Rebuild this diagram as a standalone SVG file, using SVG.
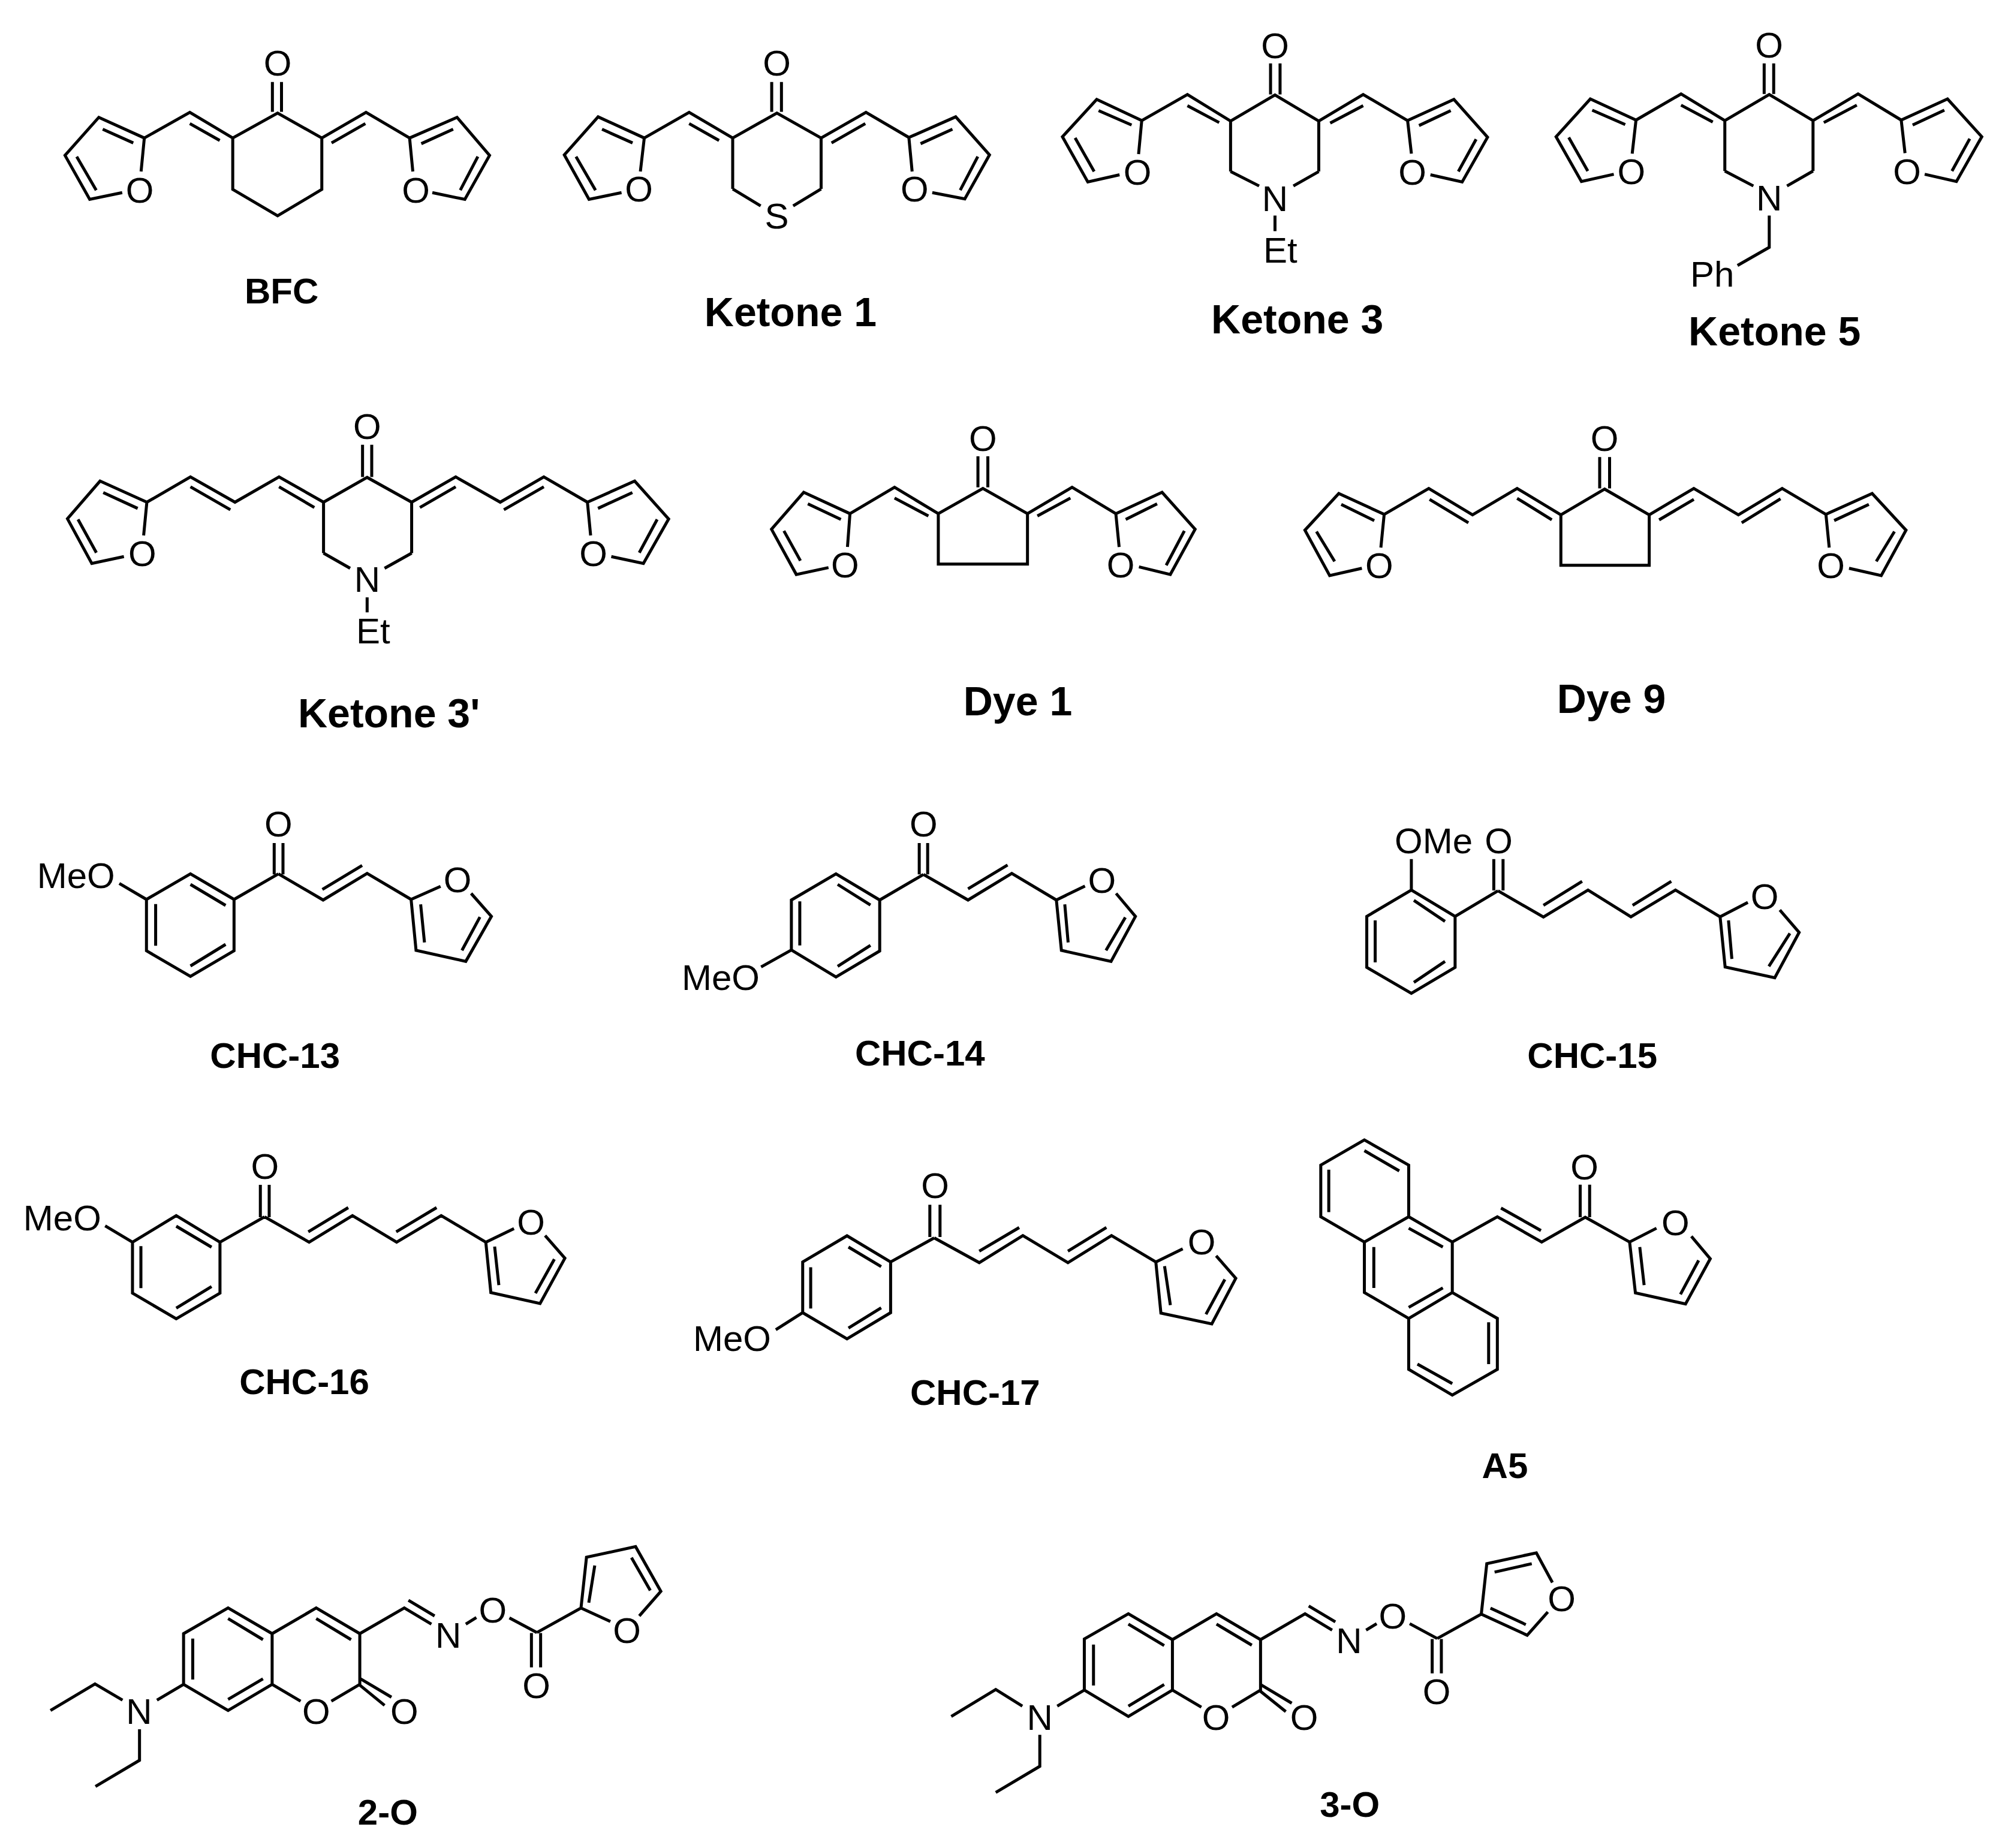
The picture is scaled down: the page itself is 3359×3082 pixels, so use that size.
<svg xmlns="http://www.w3.org/2000/svg" width="3359" height="3082" viewBox="0 0 3359 3082">
<style>
path{fill:none;stroke:#000;stroke-width:5;vector-effect:non-scaling-stroke;stroke-linejoin:miter}
text{font-family:"Liberation Sans",Arial,sans-serif;fill:#000}
.a{font-size:60px;text-anchor:middle}
.s{font-size:60px}
.l{font-size:60px;font-weight:bold;text-anchor:middle}
.k{font-size:68px;font-weight:bold;text-anchor:middle}
.d{font-size:68px;font-weight:bold;text-anchor:middle}
</style>
<rect width="3359" height="3082" fill="#fff"/>
<g id="bfc">
<path transform="matrix(1.0843 0 0 .4146 0 0)" d="M217 690L222 555L152 472L100 625L138 802L188 775M158 520L205 575M118 630L148 765M222 555L292 452L358 555M292 497L338 565M358 555L427 455L495 555L495 762L427 868L358 762ZM419 330V450M433 330V450M495 555L563 452L630 555M562 497L510 575M635 690L630 555L703 472L753 625L715 802L665 775M648 578L697 520M735 630L708 765"/>
<text class="a" x="463" y="125.5">O</text><text class="a" x="233" y="338.4">O</text><text class="a" x="693.5" y="338.4">O</text>
<text class="l" x="469.6" y="505.5">BFC</text>
</g>
<g id="ketone-1">
<path transform="matrix(1.0843 0 0 .4146 0 0)" d="M985 690L991 555L920 470L868 623L906 802L956 775M926 520L973 575M886 630L916 765M991 555L1060 452L1127 555M1060 497L1106 565M1127 760V555L1195 455L1263 555V760M1127 760L1170 828M1263 760L1220 828M1187 330V450M1202 330V450M1263 555L1332 452L1398 553M1331 497L1279 575M1403 690L1398 553L1470 470L1522 623L1484 800L1434 775M1416 578L1465 520M1504 630L1477 765"/>
<text class="a" x="1295.5" y="125.5">O</text><text class="a" x="1065.6" y="336.4">O</text><text class="a" x="1525.3" y="336.4">O</text><text class="a" x="1295.5" y="381">S</text>
<text class="k" x="1318.4" y="544.3">Ketone 1</text>
</g>
<g id="ketone-3">
<path transform="matrix(1.0582 0 0 .4146 1700 0)" d="M188 620L193 485L122 400L68 550L108 732L158 703M125 445L177 503M88 555L118 690M193 485L265 380L333 487M265 425L315 493M333 690V487L403 382L472 487V690M333 690L378 748M472 690L432 748M396 255V380M411 255V380M403 867V930M472 487L542 380L612 485M542 425L490 495M618 618L612 485L685 400L738 552L698 732L648 703M630 505L680 445M720 560L692 690"/>
<text class="a" x="2126.5" y="96.6">O</text><text class="a" x="1897" y="307.6">O</text><text class="a" x="2355.7" y="307.6">O</text><text class="a" x="2126.5" y="352.3">N</text><text class="s" x="2107" y="437.8">Et</text>
<text class="k" x="2163.7" y="556.2">Ketone 3</text>
</g>
<g id="ketone-5">
<path transform="matrix(1.0582 0 0 .4146 1700 0)" d="M966 618L972 483L900 398L846 550L886 730L937 701M903 443L955 501M866 553L896 688M972 483L1043 378L1112 485M1043 423L1093 491M1112 688V485L1182 380L1251 485V688M1112 688L1157 748M1251 688L1210 748M1174 255V378M1189 255V378M1182 867V995L1132 1068M1251 485L1322 378L1390 483M1320 423L1268 493M1396 616L1390 483L1463 398L1517 550L1477 730L1427 701M1408 503L1458 443M1498 558L1470 688"/>
<text class="a" x="2950.7" y="95.6">O</text><text class="a" x="2720.9" y="307">O</text><text class="a" x="3180.6" y="307">O</text><text class="a" x="2950.7" y="351.3">N</text><text class="s" x="2819" y="477.6">Ph</text>
<text class="k" x="2959.7" y="576.1">Ketone 5</text>
</g>
<g id="ketone-3p">
<path transform="matrix(.7654 0 0 .3827 0 650)" d="M313 635L320 490L218 398L147 562L200 757L270 727M225 448L300 517M170 565L210 710M320 490L415 380L512 490L608 380L705 490M415 423L502 523M608 423L685 513M705 712V490L800 382L897 490V712M705 712L763 778M897 712L838 778M790 240V380M810 240V380M800 905V970M897 490L993 380L1090 490L1185 380L1280 490M915 513L993 423M1098 523L1185 423M1287 635L1280 490L1383 398L1457 563L1402 757L1332 727M1303 517L1378 448M1432 565L1393 710"/>
<text class="a" x="612.3" y="731.6">O</text><text class="a" x="237.3" y="943.5">O</text><text class="a" x="989.6" y="943.5">O</text><text class="a" x="612.3" y="987.3">N</text><text class="s" x="594" y="1072.9">Et</text>
<text class="k" x="648.7" y="1213.2">Ketone 3'</text>
</g>
<g id="dye-1">
<path transform="matrix(1.3771 0 0 .3827 1200 650)" d="M155 685L158 540L102 447L63 608L93 805L132 775M107 497L147 565M78 615L98 745M158 540L212 425L265 540M212 472L253 550M265 540L319 430L373 540V760H265ZM313 290V425M325 290V425M373 540L427 425L480 540M425 472L385 550M484 685L480 540L536 447L576 608L546 805L508 772M492 565L530 497M563 615L541 765"/>
<text class="a" x="1639.3" y="751.5">O</text><text class="a" x="1409.3" y="963.4">O</text><text class="a" x="1869.2" y="963.4">O</text>
<text class="d" x="1697.5" y="1193.3">Dye 1</text>
</g>
<g id="dye-9">
<path transform="matrix(1.3771 0 0 .3827 1200 650)" d="M801 688L805 543L750 452L709 612L739 810L778 778M753 500L793 570M723 618L745 748M805 543L859 430L912 545L966 430L1019 545M860 478L907 580M966 473L1008 567M1019 545L1072 433L1126 545V765H1019ZM1066 293V430M1078 293V430M1126 545L1180 430L1234 545L1287 430L1340 543M1138 567L1180 478M1238 580L1285 475M1344 688L1340 543L1396 452L1437 612L1407 810L1368 778M1350 570L1392 500M1423 618L1401 748"/>
<text class="a" x="2676.2" y="751.5">O</text><text class="a" x="2300.3" y="964.4">O</text><text class="a" x="3053.7" y="964.4">O</text>
<text class="d" x="2687.5" y="1189.3">Dye 9</text>
</g>
<g id="chc-13">
<path transform="matrix(.6378 0 0 .33333 0 1300)" d="M312 520L383 600M383 600L498 472L612 600V857L498 985L383 857ZM498 525L590 630M407 623V832M498 933L590 825M612 600L728 472M717 318V475M740 318V475M728 472L845 603L960 470L1075 600M843 550L947 430M1152 535L1075 600L1088 855L1218 910L1285 685L1232 570M1100 625L1110 815M1208 855L1255 688"/>
<text class="s" x="61.7" y="1481">MeO</text><text class="a" x="464.3" y="1395">O</text><text class="a" x="763.2" y="1488">O</text>
<text class="l" x="458.7" y="1781">CHC-13</text>
</g>
<g id="chc-14">
<path transform="matrix(1.403 0 0 .33333 1000 1300)" d="M192 938L228 853M228 853V603L281 472L333 603V858L281 988ZM238 610V830M283 525L322 628M283 935L322 830M333 603L385 475M380 318V475M390 318V475M385 475L438 603L490 470L543 603M438 547L485 428M577 533L543 603L549 855L608 910L637 685L614 570M553 625L557 815M602 855L625 690"/>
<text class="s" x="1137" y="1651">MeO</text><text class="a" x="1540.3" y="1395">O</text><text class="a" x="1837.8" y="1489">O</text>
<text class="l" x="1534.3" y="1777">CHC-14</text>
</g>
<g id="chc-15">
<path transform="matrix(1.403 0 0 .33333 1000 1300)" d="M965 398V553M965 553L1017 685V940L965 1070L912 940V685ZM968 605L1005 710M922 705V915M968 1015L1005 910M1017 685L1068 557M1063 398V555M1074 398V555M1068 557L1122 688L1175 553L1226 687L1279 553L1332 687M1122 630L1168 510M1228 630L1274 510M1365 615L1332 687L1338 938L1397 992L1426 765L1403 653M1342 705L1346 898M1390 935L1415 770"/>
<text class="s" x="2326" y="1423">OMe</text><text class="a" x="2499.5" y="1423">O</text><text class="a" x="2943.2" y="1516">O</text>
<text class="l" x="2655.7" y="1781">CHC-15</text>
</g>
<g id="chc-16">
<path transform="matrix(.7015 0 0 .33333 0 1900)" d="M250 433L315 515M315 515L419 382L523 515V770L419 898L315 770ZM419 435L503 540M335 535V745M419 845L503 737M523 515L629 388M619 228V390M640 228V390M629 388L735 515L838 382L943 515L1049 382L1155 515M733 463L828 342M942 463L1038 342M1222 447L1155 515L1167 767L1284 822L1343 595L1296 482M1176 537L1186 730M1273 770L1318 600"/>
<text class="s" x="38.8" y="2052">MeO</text><text class="a" x="441.8" y="1966">O</text><text class="a" x="885.6" y="2059">O</text>
<text class="l" x="507.5" y="2325">CHC-16</text>
</g>
<g id="chc-17">
<path transform="matrix(1.2119 0 0 .3827 1100 1880)" d="M160 882L197 808M197 808V587L258 473L318 587V808L258 922ZM208 610V790M260 522L305 607M260 875L305 787M318 587L378 482M372 338V478M386 338V478M378 482L440 590L500 472L562 590L622 472L683 587M440 540L495 437M562 540L615 437M720 530L683 587L690 810L760 857L793 658L766 560M695 605L703 775M752 815L778 663"/>
<text class="s" x="1156" y="2253.1">MeO</text><text class="a" x="1559.7" y="1998.4">O</text><text class="a" x="2004" y="2092">O</text>
<text class="l" x="1626.4" y="2342.7">CHC-17</text>
</g>
<g id="a5">
<path transform="matrix(1.2119 0 0 .3827 1100 1880)" d="M970 55L1031 165V390L970 500L910 390V165ZM970 102L1018 190M921 185V370M1031 390L1091 500V720L1031 833L970 720V500M1031 440L1078 522M983 522V700M1031 785L1078 700M1091 720L1153 833V1055L1091 1167L1031 1055V833M1141 850V1032M1043 1032L1091 1117M1091 500L1153 390L1214 500L1274 392L1335 500M1158 352L1213 450M1267 250V392M1280 250V392M1372 440L1335 500L1343 722L1412 770L1446 573L1420 475M1349 522L1355 688M1405 728L1430 580"/>
<text class="a" x="2642.7" y="1966.6">O</text><text class="a" x="2794.3" y="2060.1">O</text>
<text class="l" x="2509.9" y="2465">A5</text>
</g>
<g id="comp-2-o">
<path transform="matrix(.7654 0 0 .3693 0 2500)" d="M110 955L207 835L267 908M342 908L400 837M304 1040V1180L208 1298M400 837V608L497 492L593 608V837L497 955ZM420 630V815M497 540L573 635M497 905L573 812M593 608L689 492L784 608V837L722 913M593 837L655 913M689 540L765 635M784 810L853 895M782 837L838 932M784 608L881 492L940 565M890 457L947 528M1015 565L1038 535M1110 537L1170 603M1158 605V760M1178 605V760M1170 603L1266 492L1330 553M1266 492L1278 263L1385 215L1440 417L1393 528M1283 468L1296 300M1376 265L1417 413"/>
<text class="a" x="231.8" y="2875">N</text><text class="a" x="527.4" y="2875">O</text><text class="a" x="674.3" y="2875">O</text><text class="a" x="747.7" y="2748">N</text><text class="a" x="821.9" y="2706">O</text><text class="a" x="894.5" y="2832">O</text><text class="a" x="1045.5" y="2740">O</text>
<text class="l" x="646.8" y="3042.5">2-O</text>
</g>
<g id="comp-3-o">
<path transform="matrix(.7654 0 0 .3693 1500 2500)" d="M113 982L210 860L268 935M344 935L403 863M306 1065V1207L210 1325M403 863V632L499 518L595 635V863L499 982ZM423 657V842M499 565L577 662M499 935L577 838M595 635L691 518L787 635V863L725 940M595 863L658 940M691 565L768 660M787 838L855 922M785 865L842 960M787 635L884 518L943 592M892 483L950 555M1017 592L1040 563M1112 563L1172 630M1161 632V787M1181 632V787M1172 630L1268 520L1280 292L1388 243L1423 377M1413 510L1368 615L1268 520M1297 330L1378 292M1288 493L1365 567"/>
<text class="a" x="1734.2" y="2885">N</text><text class="a" x="2028.1" y="2885">O</text><text class="a" x="2175" y="2885">O</text><text class="a" x="2250" y="2757">N</text><text class="a" x="2322.8" y="2716">O</text><text class="a" x="2396.2" y="2842">O</text><text class="a" x="2604.5" y="2687">O</text>
<text class="l" x="2251.2" y="3029.7">3-O</text>
</g>
</svg>
